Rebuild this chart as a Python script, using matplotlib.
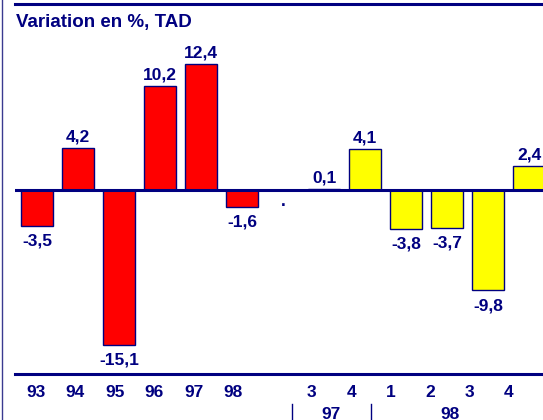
import numpy as np
import matplotlib.pyplot as plt
from matplotlib.lines import Line2D
import matplotlib.transforms as mtransforms

plt.rcParams['font.family'] = ['Liberation Sans', 'DejaVu Sans']

annees = ['93', '94', '95', '96', '97', '98']
var_annees = [-3.5, 4.2, -15.1, 10.2, 12.4, -1.6]
trims = ['3', '4', '1', '2', '3', '4']
var_trims = [0.1, 4.1, -3.8, -3.7, -9.8, 2.4]
groupes = ['97', '98']

navy = '#000080'
fs = 12.5

fig = plt.figure(figsize=(5.43, 4.2), dpi=100)
W, H = 543, 420
ax = fig.add_axes([15 / W, (H - 373.5) / H, 528 / W, 370 / H])

x_a = np.arange(len(annees))
x_t = np.arange(len(trims)) + len(annees) + 1

ax.bar(x_a, var_annees, width=0.78, color='#ff0000', edgecolor=navy, linewidth=1, zorder=2)
ax.bar(x_t, var_trims, width=0.78, color='#ffff00', edgecolor=navy, linewidth=1, zorder=2)
ax.axhline(0, color=navy, lw=2.2, zorder=3)

for xs, vals in [(x_a, var_annees), (x_t, var_trims)]:
    for x, v in zip(xs, vals):
        txt = ('%.1f' % v).replace('.', ',')
        if v >= 0:
            ax.annotate(txt, (x, v), xytext=(0, 2.5), textcoords='offset points',
                        ha='center', va='bottom', fontsize=fs, fontweight='bold', color=navy)
        else:
            ax.annotate(txt, (x, v), xytext=(0, -5.5), textcoords='offset points',
                        ha='center', va='top', fontsize=fs, fontweight='bold', color=navy)
# valeur manquante
ax.text(len(annees), -1.5, '.', ha='center', va='baseline', fontsize=fs,
        fontweight='bold', color=navy)

ax.set_xlim(-0.537, 12.34)
ax.set_ylim(-17.94, 18.33)
ax.set_xticks([])
ax.set_yticks([])
for s in ['left', 'right']:
    ax.spines[s].set_visible(False)
for s in ['top', 'bottom']:
    ax.spines[s].set_color(navy)
    ax.spines[s].set_linewidth(2.2)

# axe des etiquettes (decalage de l'original)
lab = fig.add_axes(ax.get_position(), frameon=False)
lab.set_xlim(-0.533, 12.87)
lab.set_ylim(0, 1)
lab.set_yticks([])
pos = list(x_a) + list(x_t)
lab.set_xticks(pos)
lab.set_xticklabels(annees + trims, fontsize=fs, fontweight='bold', color=navy)
lab.tick_params(axis='x', length=0, pad=8.5)
trans = mtransforms.blended_transform_factory(lab.transData, lab.transAxes)
for sep in [6.5, 8.5]:
    lab.add_line(Line2D([sep, sep], [-0.083, -0.13], color=navy, lw=1,
                        transform=trans, clip_on=False))
lab.text(7.5, -0.09, groupes[0], transform=trans, ha='center', va='top',
         fontsize=fs, fontweight='bold', color=navy)
lab.text(10.5, -0.09, groupes[1], transform=trans, ha='center', va='top',
         fontsize=fs, fontweight='bold', color=navy)

fig.add_artist(Line2D([1.5 / W, 1.5 / W], [0, 1], color='#3a3a90', lw=1))
fig.text(16 / W, 1 - 27 / H, 'Variation en %, TAD', fontsize=13.5, fontweight='bold',
         color=navy, ha='left', va='baseline')

fig.savefig('out.png', dpi=100)
